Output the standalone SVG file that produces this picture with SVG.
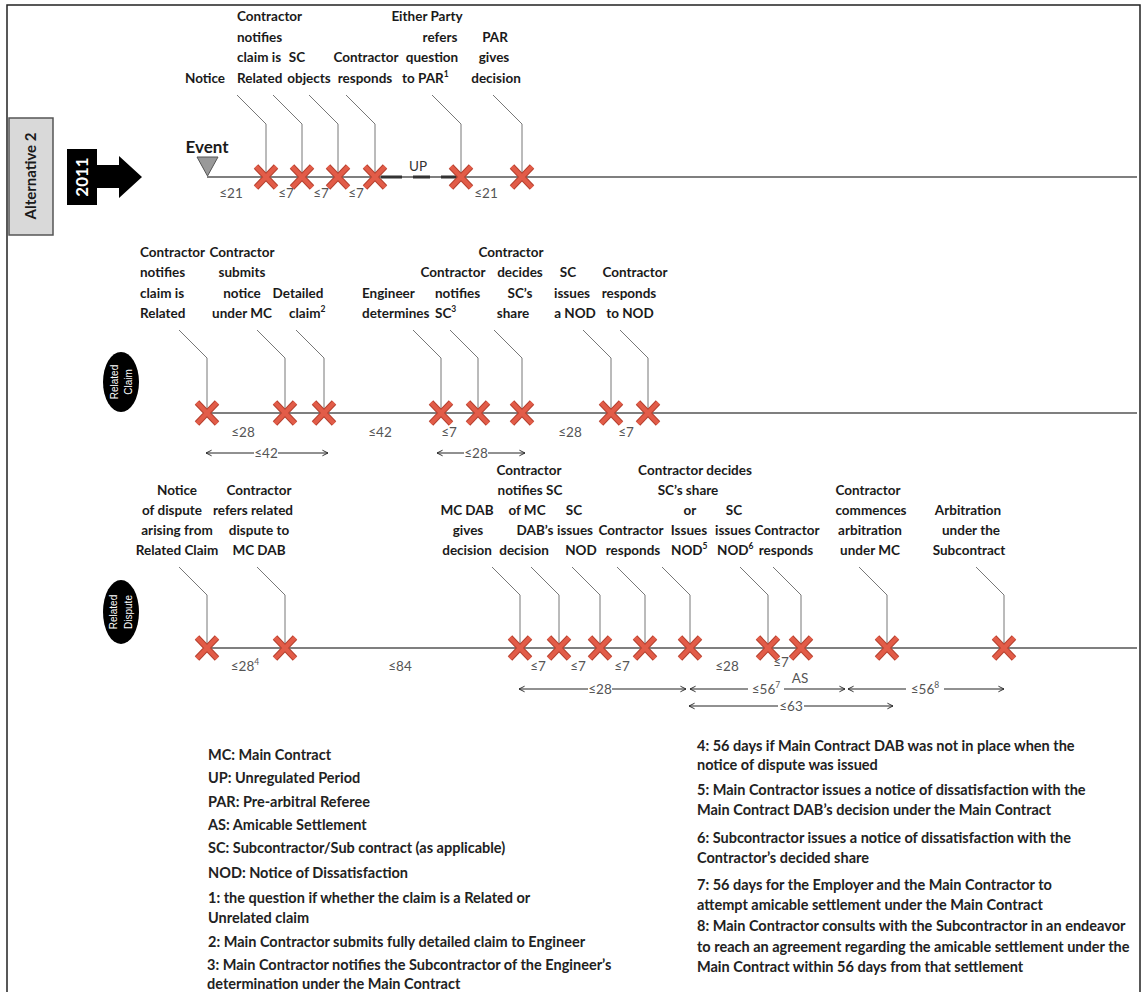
<svg xmlns="http://www.w3.org/2000/svg" width="1142" height="992" viewBox="0 0 1142 992">
<style>
text{font-family:Lato,"Liberation Sans","DejaVu Sans",sans-serif}
.l{font-weight:700;font-size:13.5px;fill:#1a1a1a;text-anchor:middle}
.ls{font-weight:700;font-size:13.5px;fill:#1a1a1a;text-anchor:start}
.d{font-size:13.5px;fill:#555;text-anchor:middle}
.g{font-weight:700;font-size:14.5px;fill:#222}
.sup{font-size:8.5px}
.lead{stroke:#777;stroke-width:1;fill:none}
.tl{stroke:#555;stroke-width:1.5;fill:none}
.up{stroke:#333;stroke-width:3}
.ar{stroke:#222;stroke-width:1;fill:none}
.ms{marker-start:url(#ah)}
.me{marker-end:url(#ah)}
.et{font-size:10px;fill:#fff;text-anchor:middle;font-family:"Liberation Sans",Arial,sans-serif}
</style>
<defs>
<g id="x">
<path d="M-10,-10.5 L10,10.5 M-10,10.5 L10,-10.5" stroke="#b5412f" stroke-width="6.2"/>
<path d="M-10,-10.5 L10,10.5 M-10,10.5 L10,-10.5" stroke="#e25c48" stroke-width="4.2"/>
</g>
<marker id="ah" viewBox="0 0 10 10" refX="9" refY="5" markerWidth="7" markerHeight="8" orient="auto-start-reverse" markerUnits="userSpaceOnUse">
<path d="M1,1 L9,5 L1,9" fill="none" stroke="#222" stroke-width="1.3"/>
</marker>
</defs>
<rect width="1142" height="992" fill="#fff"/>
<path d="M7,995 V5 H1140 V995" fill="none" stroke="#222" stroke-width="1.5"/>

<g id="alternative">
<rect x="9" y="118" width="44" height="117" fill="#d9d9d9" stroke="#555" stroke-width="1.5"/>
<text transform="translate(36,176) rotate(-90)" class="l" style="font-size:15px">Alternative 2</text>
</g>
<g id="year-2011">
<path d="M67,149 H97 V165 H119 V156 L142,177 L119,198 V188 H97 V205 H67 Z" fill="#000"/>
<text transform="translate(88,177) rotate(-90)" class="l" style="font-size:17px;fill:#fff">2011</text>
</g>
<g id="event">
<text x="207" y="153" class="l" style="font-size:17px">Event</text>
<path d="M197,157 H218 L207.5,176 Z" fill="#999" stroke="#555" stroke-width="1"/>
</g>
<g id="related-claim-tag">
<ellipse cx="121" cy="382" rx="18" ry="30" fill="#000"/>
<text transform="translate(118,382) rotate(-90)" class="et">Related</text>
<text transform="translate(132,382) rotate(-90)" class="et">Claim</text>
</g>
<g id="related-dispute-tag">
<ellipse cx="121" cy="612" rx="18" ry="32" fill="#000"/>
<text transform="translate(117,612) rotate(-90)" class="et">Related</text>
<text transform="translate(132,612) rotate(-90)" class="et">Dispute</text>
</g>

<g id="connectors">
<path class="tl" d="M207,177 H1137 M207,413 H1137 M207,648 H1137"/>
<path class="up" d="M381,177 H402 M413,177 H430 M441,177 H457"/>
<path class="lead" d="M266,177 V124 L237,95 M302,177 V124 L273,95 M338,177 V124 L309,95 M375,177 V124 L346,95 M461,177 V124 L432,95 M522,177 V124 L493,95"/>
<path class="lead" d="M207,413 V358 L179,330 M285,413 V358 L257,330 M324,413 V358 L296,330 M441,413 V358 L413,330 M478,413 V358 L450,330 M522,413 V358 L494,330 M611,413 V358 L583,330 M648,413 V358 L620,330"/>
<path class="lead" d="M207,648 V595 L179,567 M285,648 V595 L257,567 M520,648 V595 L492,567 M559,648 V595 L531,567 M600,648 V595 L572,567 M645,648 V595 L617,567 M690,648 V595 L662,567 M768,648 V595 L740,567 M801,648 V595 L773,567 M887,648 V595 L859,567 M1004,648 V595 L976,567"/>
<path class="ar ms" d="M206,453 H254"/><path class="ar me" d="M278,453 H328"/>
<path class="ar ms" d="M437,453 H464"/><path class="ar me" d="M488,453 H525"/>
<path class="ar ms" d="M519,689 H588"/><path class="ar me" d="M612,689 H686"/>
<path class="ar ms" d="M690,689 H748"/><path class="ar me" d="M784,689 H845"/>
<path class="ar ms" d="M848,689 H906"/><path class="ar me" d="M944,689 H1004"/>
<path class="ar ms" d="M689,706 H778"/><path class="ar me" d="M804,706 H893"/>
</g>

<g id="top-durations">
<text x="418" y="171" class="d" style="fill:#333">UP</text>
<text x="231" y="198" class="d">≤21</text>
<text x="286" y="198" class="d">≤7</text>
<text x="321" y="198" class="d">≤7</text>
<text x="356" y="198" class="d">≤7</text>
<text x="486" y="198" class="d">≤21</text>
</g>
<g id="mid-durations">
<text x="243" y="437" class="d">≤28</text>
<text x="380" y="437" class="d">≤42</text>
<text x="449" y="437" class="d">≤7</text>
<text x="570" y="437" class="d">≤28</text>
<text x="626" y="437" class="d">≤7</text>
<text x="266" y="458" class="d">≤42</text>
<text x="476" y="458" class="d">≤28</text>
</g>
<g id="low-durations">
<text x="245" y="671" class="d">≤28<tspan class="sup" dy="-6">4</tspan></text>
<text x="400" y="671" class="d">≤84</text>
<text x="538" y="671" class="d">≤7</text>
<text x="578" y="671" class="d">≤7</text>
<text x="622" y="671" class="d">≤7</text>
<text x="727" y="671" class="d">≤28</text>
<text x="781" y="667" class="d">≤7</text>
<text x="800" y="683" class="d">AS</text>
<text x="600" y="694" class="d">≤28</text>
<text x="766" y="694" class="d">≤56<tspan class="sup" dy="-6">7</tspan></text>
<text x="925" y="694" class="d">≤56<tspan class="sup" dy="-6">8</tspan></text>
<text x="791" y="711" class="d">≤63</text>
</g>

<g id="t1"><text x="205" y="83" class="l">Notice</text><use href="#x" x="266" y="177"/></g>
<g id="t2"><text x="237" y="21" class="ls">Contractor</text><text x="237" y="42" class="ls">notifies</text><text x="237" y="62" class="ls">claim is</text><text x="237" y="83" class="ls">Related</text><use href="#x" x="302" y="177"/></g>
<g id="t3"><text x="297" y="62" class="l">SC</text><text x="309" y="83" class="l">objects</text><use href="#x" x="338" y="177"/></g>
<g id="t4"><text x="366" y="62" class="l">Contractor</text><text x="365" y="83" class="l">responds</text><use href="#x" x="375" y="177"/></g>
<g id="t5"><text x="427" y="21" class="l">Either Party</text><text x="440" y="42" class="l">refers</text><text x="432" y="62" class="l">question</text><text x="402" y="83" class="ls">to PAR<tspan class="sup" dy="-6">1</tspan></text><use href="#x" x="461" y="177"/></g>
<g id="t6"><text x="495" y="42" class="l">PAR</text><text x="494" y="62" class="l">gives</text><text x="496" y="83" class="l">decision</text><use href="#x" x="522" y="177"/></g>

<g id="m1"><text x="140" y="257" class="ls">Contractor</text><text x="140" y="277" class="ls">notifies</text><text x="140" y="298" class="ls">claim is</text><text x="140" y="318" class="ls">Related</text><use href="#x" x="207" y="413"/></g>
<g id="m2"><text x="242" y="257" class="l">Contractor</text><text x="242" y="277" class="l">submits</text><text x="242" y="298" class="l">notice</text><text x="242" y="318" class="l">under MC</text><use href="#x" x="285" y="413"/></g>
<g id="m3"><text x="298" y="298" class="l">Detailed</text><text x="289" y="318" class="ls">claim<tspan class="sup" dy="-6">2</tspan></text><use href="#x" x="324" y="413"/></g>
<g id="m4"><text x="362" y="298" class="ls">Engineer</text><text x="362" y="318" class="ls">determines</text><use href="#x" x="441" y="413"/></g>
<g id="m5"><text x="453" y="277" class="l">Contractor</text><text x="435" y="298" class="ls">notifies</text><text x="435" y="318" class="ls">SC<tspan class="sup" dy="-6">3</tspan></text><use href="#x" x="478" y="413"/></g>
<g id="m6"><text x="511" y="257" class="l">Contractor</text><text x="520" y="277" class="l">decides</text><text x="520" y="298" class="l">SC’s</text><text x="513" y="318" class="l">share</text><use href="#x" x="522" y="413"/></g>
<g id="m7"><text x="568" y="277" class="l">SC</text><text x="572" y="298" class="l">issues</text><text x="575" y="318" class="l">a NOD</text><use href="#x" x="611" y="413"/></g>
<g id="m8"><text x="635" y="277" class="l">Contractor</text><text x="629" y="298" class="l">responds</text><text x="630" y="318" class="l">to NOD</text><use href="#x" x="648" y="413"/></g>

<g id="d1"><text x="177" y="495" class="l">Notice</text><text x="172" y="515" class="l">of dispute</text><text x="177" y="535" class="l">arising from</text><text x="177" y="555" class="l">Related Claim</text><use href="#x" x="207" y="648"/></g>
<g id="d2"><text x="259" y="495" class="l">Contractor</text><text x="253" y="515" class="l">refers related</text><text x="259" y="535" class="l">dispute to</text><text x="259" y="555" class="l">MC DAB</text><use href="#x" x="285" y="648"/></g>
<g id="d3"><text x="467" y="515" class="l">MC DAB</text><text x="468" y="535" class="l">gives</text><text x="467" y="555" class="l">decision</text><use href="#x" x="520" y="648"/></g>
<g id="d4"><text x="529" y="475" class="l">Contractor</text><text x="530" y="495" class="l">notifies SC</text><text x="527" y="515" class="l">of MC</text><text x="535" y="535" class="l">DAB’s</text><text x="524" y="555" class="l">decision</text><use href="#x" x="559" y="648"/></g>
<g id="d5"><text x="574" y="515" class="l">SC</text><text x="575" y="535" class="l">issues</text><text x="581" y="555" class="l">NOD</text><use href="#x" x="600" y="648"/></g>
<g id="d6"><text x="631" y="535" class="l">Contractor</text><text x="633" y="555" class="l">responds</text><use href="#x" x="645" y="648"/></g>
<g id="d7"><text x="695" y="475" class="l">Contractor decides</text><text x="688" y="495" class="l">SC’s share</text><text x="690" y="515" class="l">or</text><text x="689" y="535" class="l">Issues</text><text x="671" y="555" class="ls">NOD<tspan class="sup" dy="-6">5</tspan></text><use href="#x" x="690" y="648"/></g>
<g id="d8"><text x="734" y="515" class="l">SC</text><text x="733" y="535" class="l">issues</text><text x="717" y="555" class="ls">NOD<tspan class="sup" dy="-6">6</tspan></text><use href="#x" x="768" y="648"/></g>
<g id="d9"><text x="787" y="535" class="l">Contractor</text><text x="786" y="555" class="l">responds</text><use href="#x" x="801" y="648"/></g>
<g id="d10"><text x="868" y="495" class="l">Contractor</text><text x="871" y="515" class="l">commences</text><text x="870" y="535" class="l">arbitration</text><text x="870" y="555" class="l">under MC</text><use href="#x" x="887" y="648"/></g>
<g id="d11"><text x="968" y="515" class="l">Arbitration</text><text x="971" y="535" class="l">under the</text><text x="969" y="555" class="l">Subcontract</text><use href="#x" x="1004" y="648"/></g>

<g id="legend-left" class="g">
<text x="208" y="760">MC: Main Contract</text>
<text x="208" y="783">UP: Unregulated Period</text>
<text x="208" y="807">PAR: Pre-arbitral Referee</text>
<text x="208" y="830">AS: Amicable Settlement</text>
<text x="208" y="853">SC: Subcontractor/Sub contract (as applicable)</text>
<text x="208" y="878">NOD: Notice of Dissatisfaction</text>
<text x="208" y="903">1: the question if whether the claim is a Related or</text>
<text x="208" y="923">Unrelated claim</text>
<text x="208" y="947">2: Main Contractor submits fully detailed claim to Engineer</text>
<text x="207" y="970">3: Main Contractor notifies the Subcontractor of the Engineer’s</text>
<text x="207" y="989">determination under the Main Contract</text>
</g>
<g id="legend-right" class="g">
<text x="697" y="751">4: 56 days if Main Contract DAB was not in place when the</text>
<text x="697" y="770">notice of dispute was issued</text>
<text x="697" y="795">5: Main Contractor issues a notice of dissatisfaction with the</text>
<text x="697" y="815">Main Contract DAB’s decision under the Main Contract</text>
<text x="697" y="843">6: Subcontractor issues a notice of dissatisfaction with the</text>
<text x="697" y="863">Contractor’s decided share</text>
<text x="697" y="890">7: 56 days for the Employer and the Main Contractor to</text>
<text x="697" y="910">attempt amicable settlement under the Main Contract</text>
<text x="697" y="931">8: Main Contractor consults with the Subcontractor in an endeavor</text>
<text x="697" y="952">to reach an agreement regarding the amicable settlement under the</text>
<text x="697" y="972">Main Contract within 56 days from that settlement</text>
</g>
</svg>
